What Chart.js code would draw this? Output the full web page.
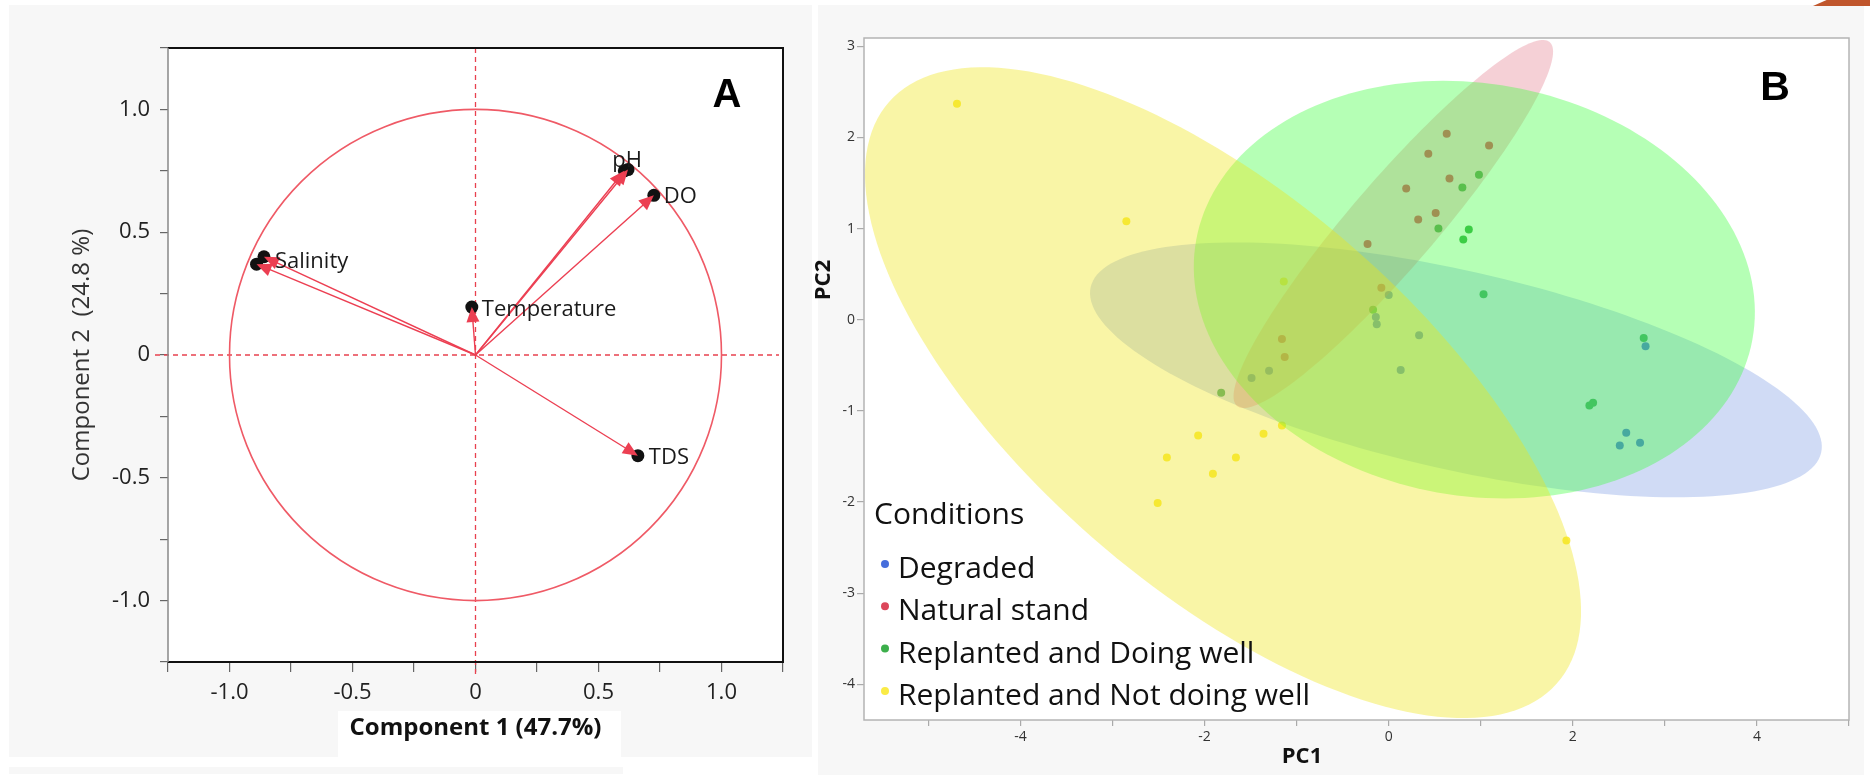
<!DOCTYPE html>
<html>
<head>
<meta charset="utf-8">
<title>PCA loadings and scores</title>
<script src="https://cdn.jsdelivr.net/npm/chart.js@4.4.1/dist/chart.umd.min.js"></script>
<style>
  html, body { margin: 0; padding: 0; background: #fff; }
  body { position: relative; width: 1870px; height: 784px; overflow: hidden; }
  .bg { position: absolute; background: #f7f7f7; }
  #bgA { left: 9px; top: 5px; width: 803px; height: 752px; }
  #stripA { left: 9px; top: 767px; width: 614px; height: 7px; }
  #titleBoxA { position: absolute; left: 338px; top: 711px; width: 283px; height: 46px; background: #fff; }
  #bgB { left: 818px; top: 5px; width: 1046px; height: 770px; }
  #corner { position: absolute; left: 1808px; top: 0; width: 62px; height: 6px; background: #c0562c;
            clip-path: polygon(8% 100%, 30% 0, 100% 0, 100% 100%); }
  canvas { position: absolute; top: 0; }
  #chartA { left: 0; }
  #chartB { left: 800px; }
</style>
</head>
<body>
<div class="bg" id="bgA"></div>
<div class="bg" id="stripA"></div>
<div id="titleBoxA"></div>
<div class="bg" id="bgB"></div>
<div id="corner"></div>
<canvas id="chartA" width="812" height="760"></canvas>
<canvas id="chartB" width="1070" height="784"></canvas>
<script>
// ---- Panel A : loadings ----
const arrowVar = ['Salinity', 'Salinity', 'pH', 'pH', 'DO', 'Temperature', 'TDS'];
const comp1 = [-0.89, -0.86, 0.605, 0.62, 0.725, -0.015, 0.66];
const comp2 = [0.37, 0.40, 0.75, 0.755, 0.65, 0.195, -0.41];
const tickLabelsA = [-1.0, -0.5, 0, 0.5, 1.0];

// ---- Panel B : scores ----
const conditions = ['Degraded', 'Natural stand', 'Replanted and Doing well', 'Replanted and Not doing well'];
const degradedPC1 = [0.00, -0.14, -0.13, 0.33, 0.13, -1.30, -1.49, 2.79, 2.58, 2.51, 2.73];
const degradedPC2 = [0.27, 0.03, -0.05, -0.17, -0.55, -0.56, -0.64, -0.29, -1.24, -1.38, -1.35];
const naturalPC1 = [0.19, 0.32, -0.23, -0.08, 0.63, 1.09, 0.43, 0.66, 0.51, -1.16, -1.13];
const naturalPC2 = [1.44, 1.10, 0.83, 0.35, 2.04, 1.91, 1.82, 1.55, 1.17, -0.21, -0.41];
const doingWellPC1 = [0.98, 0.80, 0.54, 0.87, 0.81, 1.03, 2.77, 2.18, 2.22, -0.17, -1.82];
const doingWellPC2 = [1.59, 1.45, 1.00, 0.99, 0.88, 0.28, -0.20, -0.94, -0.91, 0.11, -0.80];
const notWellPC1 = [-4.69, -2.85, -1.14, -1.16, -2.07, -1.36, -1.66, -1.91, -2.41, -2.51, 1.93];
const notWellPC2 = [2.37, 1.08, 0.42, -1.16, -1.27, -1.25, -1.51, -1.69, -1.51, -2.01, -2.42];

// density ellipses (centre, semi axes, angle in degrees) per condition
const ellipseCx = [0.73, 0.05, 0.93, -1.80];
const ellipseCy = [-0.55, 1.05, 0.33, -0.80];
const ellipseA = [4.07, 2.62, 3.07, 4.83];
const ellipseB = [1.09, 0.47, 2.26, 2.13];
const ellipseAngle = [-12.9, 49.6, -10.3, -41.35];

const xTickLabelsB = [-4, -2, 0, 2, 4];
const yTickLabelsB = [-4, -3, -2, -1, 0, 1, 2, 3];

const pointColors = ['rgb(70,110,220)', 'rgb(220,70,90)', 'rgb(60,175,75)', 'rgb(250,235,70)'];
const ellipseFill = ['rgba(98,135,222,0.3)', 'rgba(222,98,118,0.3)', 'rgba(60,255,60,0.38)', 'rgba(240,230,20,0.38)'];

const scoreX = [degradedPC1, naturalPC1, doingWellPC1, notWellPC1];
const scoreY = [degradedPC2, naturalPC2, doingWellPC2, notWellPC2];

const sans = "'Open Sans', sans-serif";
const arial = "'Liberation Sans', Arial, sans-serif";

function onlyIntegers(scale) {
    scale.ticks = scale.ticks.filter(t => Math.abs(t.value - Math.round(t.value)) < 1e-6);
}

function labelA(v) {
    if (!tickLabelsA.some(t => Math.abs(t - v) < 1e-6)) return '';
    return Math.abs(v) < 1e-6 ? '0' : v.toFixed(1);
}

// label placement next to the arrow tips (pixels)
const labelPlace = {
    'Salinity': [11, 5, 'left'],
    'pH': [-1, -9, 'center'],
    'DO': [10, 1, 'left'],
    'Temperature': [10, 3, 'left'],
    'TDS': [11, 2, 'left']
};

const loadingPlugin = {
    id: 'loadings',
    beforeDraw(chart) {
        const {ctx, chartArea: a} = chart;
        ctx.save();
        ctx.fillStyle = '#fff';
        ctx.fillRect(a.left, a.top, a.right - a.left, a.bottom - a.top);
        ctx.restore();
    },
    beforeDatasetsDraw(chart) {
        const {ctx, chartArea: a, scales: {x, y}} = chart;
        const x0 = x.getPixelForValue(0), y0 = y.getPixelForValue(0);
        ctx.save();
        ctx.strokeStyle = '#e8414f';
        ctx.lineWidth = 1.3;
        ctx.setLineDash([5, 4]);
        ctx.beginPath();
        ctx.moveTo(x0, a.top);
        ctx.lineTo(x0, a.bottom + 13);
        ctx.moveTo(a.left - 13, y0);
        ctx.lineTo(a.right - 4, y0);
        ctx.stroke();
        ctx.setLineDash([]);
        // unit circle
        ctx.strokeStyle = '#ef5a66';
        ctx.lineWidth = 1.6;
        ctx.beginPath();
        ctx.ellipse(x0, y0, x.getPixelForValue(1) - x0, y0 - y.getPixelForValue(1), 0, 0, Math.PI * 2);
        ctx.stroke();
        ctx.restore();
    },
    afterDatasetsDraw(chart) {
        const {ctx, scales: {x, y}} = chart;
        const x0 = x.getPixelForValue(0), y0 = y.getPixelForValue(0);
        ctx.save();
        ctx.strokeStyle = '#ec3f52';
        ctx.fillStyle = '#ec3f52';
        ctx.lineWidth = 1.4;
        comp1.forEach((v, i) => {
            const tx = x.getPixelForValue(v), ty = y.getPixelForValue(comp2[i]);
            const ang = Math.atan2(ty - y0, tx - x0);
            const c = Math.cos(ang), s = Math.sin(ang);
            ctx.beginPath();
            ctx.moveTo(x0, y0);
            ctx.lineTo(tx - 8 * c, ty - 8 * s);
            ctx.stroke();
            ctx.beginPath();
            ctx.moveTo(tx, ty);
            ctx.lineTo(tx - 15 * c + 6.5 * s, ty - 15 * s - 6.5 * c);
            ctx.lineTo(tx - 15 * c - 6.5 * s, ty - 15 * s + 6.5 * c);
            ctx.closePath();
            ctx.fill();
        });
        // variable names, at the last arrow of each variable
        ctx.fillStyle = '#1a1a1a';
        ctx.font = '22px ' + sans;
        ctx.textBaseline = 'middle';
        const done = {};
        for (let i = arrowVar.length - 1; i >= 0; i--) {
            const name = arrowVar[i];
            if (done[name]) continue;
            done[name] = true;
            const p = labelPlace[name];
            ctx.textAlign = p[2];
            ctx.fillText(name, x.getPixelForValue(comp1[i]) + p[0], y.getPixelForValue(comp2[i]) + p[1]);
        }
        ctx.restore();
    },
    afterDraw(chart) {
        const {ctx, chartArea: a} = chart;
        ctx.save();
        ctx.strokeStyle = '#111';
        ctx.lineWidth = 2;
        ctx.beginPath();
        ctx.moveTo(a.left, a.top);
        ctx.lineTo(a.right, a.top);
        ctx.lineTo(a.right, a.bottom);
        ctx.lineTo(a.left, a.bottom);
        ctx.stroke();
        ctx.strokeStyle = '#888';
        ctx.lineWidth = 1.5;
        ctx.beginPath();
        ctx.moveTo(a.left, a.top);
        ctx.lineTo(a.left, a.bottom);
        ctx.stroke();
        ctx.fillStyle = '#000';
        ctx.font = 'bold 40px ' + arial;
        ctx.textAlign = 'center';
        ctx.textBaseline = 'alphabetic';
        ctx.fillText('A', a.right - 56, a.top + 59);
        ctx.restore();
    }
};

new Chart(document.getElementById('chartA'), {
    type: 'scatter',
    data: {
        datasets: [{
            data: comp1.map((v, i) => ({x: v, y: comp2[i]})),
            pointRadius: 6.5,
            pointBackgroundColor: '#111',
            pointBorderWidth: 0
        }]
    },
    options: {
        responsive: false,
        animation: false,
        devicePixelRatio: 1,
        events: [],
        layout: {padding: {left: 0, top: 48, right: 29, bottom: 0}},
        plugins: {legend: {display: false}, tooltip: {enabled: false}},
        scales: {
            x: {
                type: 'linear', min: -1.25, max: 1.25,
                ticks: {stepSize: 0.25, autoSkip: false, maxRotation: 0, padding: 8, color: '#222',
                        font: {family: sans, size: 22}, callback: labelA},
                grid: {drawOnChartArea: false, drawTicks: true, tickLength: 10, color: '#666', lineWidth: 1.2},
                border: {display: false},
                title: {display: true, text: 'Component 1 (47.7%)', color: '#111',
                        font: {family: sans, size: 24, weight: 'bold'}, padding: {top: 0, bottom: 17}},
                afterFit: s => { s.height = 98; }
            },
            y: {
                type: 'linear', min: -1.25, max: 1.25,
                ticks: {stepSize: 0.25, autoSkip: false, padding: 10, color: '#222',
                        font: {family: sans, size: 22}, callback: labelA},
                grid: {drawOnChartArea: false, drawTicks: true, tickLength: 8, color: '#666', lineWidth: 1.2},
                border: {display: false},
                title: {display: true, text: 'Component 2  (24.8 %)', color: '#333',
                        font: {family: sans, size: 24}, padding: {top: 68, bottom: 0}},
                afterFit: s => { s.width = 168; }
            }
        }
    },
    plugins: [loadingPlugin]
});

const scorePlugin = {
    id: 'scores',
    beforeDraw(chart) {
        const {ctx, chartArea: a} = chart;
        ctx.save();
        ctx.fillStyle = '#fff';
        ctx.fillRect(a.left, a.top, a.right - a.left, a.bottom - a.top);
        ctx.restore();
    },
    afterDatasetsDraw(chart) {
        const {ctx, chartArea: a, scales: {x, y}} = chart;
        ctx.save();
        ctx.beginPath();
        ctx.rect(a.left, a.top, a.right - a.left, a.bottom - a.top);
        ctx.clip();
        for (let i = 0; i < conditions.length; i++) {
            const th = ellipseAngle[i] * Math.PI / 180;
            const c = Math.cos(th), s = Math.sin(th);
            ctx.beginPath();
            for (let k = 0; k <= 180; k++) {
                const t = k / 180 * Math.PI * 2;
                const ex = ellipseA[i] * Math.cos(t), ey = ellipseB[i] * Math.sin(t);
                const px = x.getPixelForValue(ellipseCx[i] + ex * c - ey * s);
                const py = y.getPixelForValue(ellipseCy[i] + ex * s + ey * c);
                if (k === 0) ctx.moveTo(px, py); else ctx.lineTo(px, py);
            }
            ctx.closePath();
            ctx.fillStyle = ellipseFill[i];
            ctx.fill();
        }
        ctx.restore();
    },
    afterDraw(chart) {
        const {ctx, chartArea: a} = chart;
        ctx.save();
        ctx.strokeStyle = '#b4b4b4';
        ctx.lineWidth = 1.5;
        ctx.strokeRect(a.left, a.top, a.right - a.left, a.bottom - a.top);

        ctx.fillStyle = '#000';
        ctx.font = 'bold 41px ' + arial;
        ctx.textAlign = 'center';
        ctx.textBaseline = 'alphabetic';
        ctx.fillText('B', a.right - 74, a.top + 62);

        // legend
        ctx.fillStyle = '#111';
        ctx.textAlign = 'left';
        ctx.font = '30px ' + sans;
        ctx.fillText('Conditions', a.left + 10, a.bottom - 196);
        conditions.forEach((name, i) => {
            const base = a.bottom - 142 + i * 42.3;
            ctx.fillStyle = pointColors[i];
            ctx.beginPath();
            ctx.arc(a.left + 21, base - 14, 4, 0, Math.PI * 2);
            ctx.fill();
            ctx.fillStyle = '#111';
            ctx.fillText(name, a.left + 34, base);
        });

        // axis titles
        ctx.font = 'bold 22px ' + sans;
        ctx.textAlign = 'center';
        ctx.textBaseline = 'middle';
        ctx.fillText('PC1', 1302 - 800, 757);
        ctx.translate(24, 280);
        ctx.rotate(-Math.PI / 2);
        ctx.fillText('PC2', 0, 0);
        ctx.restore();
    }
};

new Chart(document.getElementById('chartB'), {
    type: 'scatter',
    data: {
        datasets: conditions.map((name, i) => ({
            label: name,
            data: scoreX[i].map((v, j) => ({x: v, y: scoreY[i][j]})),
            pointRadius: 4,
            pointBackgroundColor: pointColors[i],
            pointBorderWidth: 0
        }))
    },
    options: {
        responsive: false,
        animation: false,
        devicePixelRatio: 1,
        events: [],
        layout: {padding: {left: 0, top: 38, right: 21, bottom: 0}},
        plugins: {legend: {display: false}, tooltip: {enabled: false}},
        scales: {
            x: {
                type: 'linear', min: -5.7, max: 5.0,
                afterBuildTicks: onlyIntegers,
                ticks: {stepSize: 1, includeBounds: false, autoSkip: false, maxRotation: 0, padding: 3, color: '#333',
                        font: {family: sans, size: 14},
                        callback: v => xTickLabelsB.includes(v) ? String(v) : ''},
                grid: {drawOnChartArea: false, drawTicks: true, tickLength: 6, color: '#aaa', lineWidth: 1.2},
                border: {display: false},
                afterFit: s => { s.height = 64; }
            },
            y: {
                type: 'linear', min: -4.39, max: 3.09,
                afterBuildTicks: onlyIntegers,
                ticks: {stepSize: 1, includeBounds: false, autoSkip: false, padding: 2, color: '#333',
                        font: {family: sans, size: 14},
                        callback: v => yTickLabelsB.includes(v) ? String(v) : ''},
                grid: {drawOnChartArea: false, drawTicks: true, tickLength: 7, color: '#aaa', lineWidth: 1.2},
                border: {display: false},
                afterFit: s => { s.width = 64; }
            }
        }
    },
    plugins: [scorePlugin]
});
</script>
</body>
</html>
